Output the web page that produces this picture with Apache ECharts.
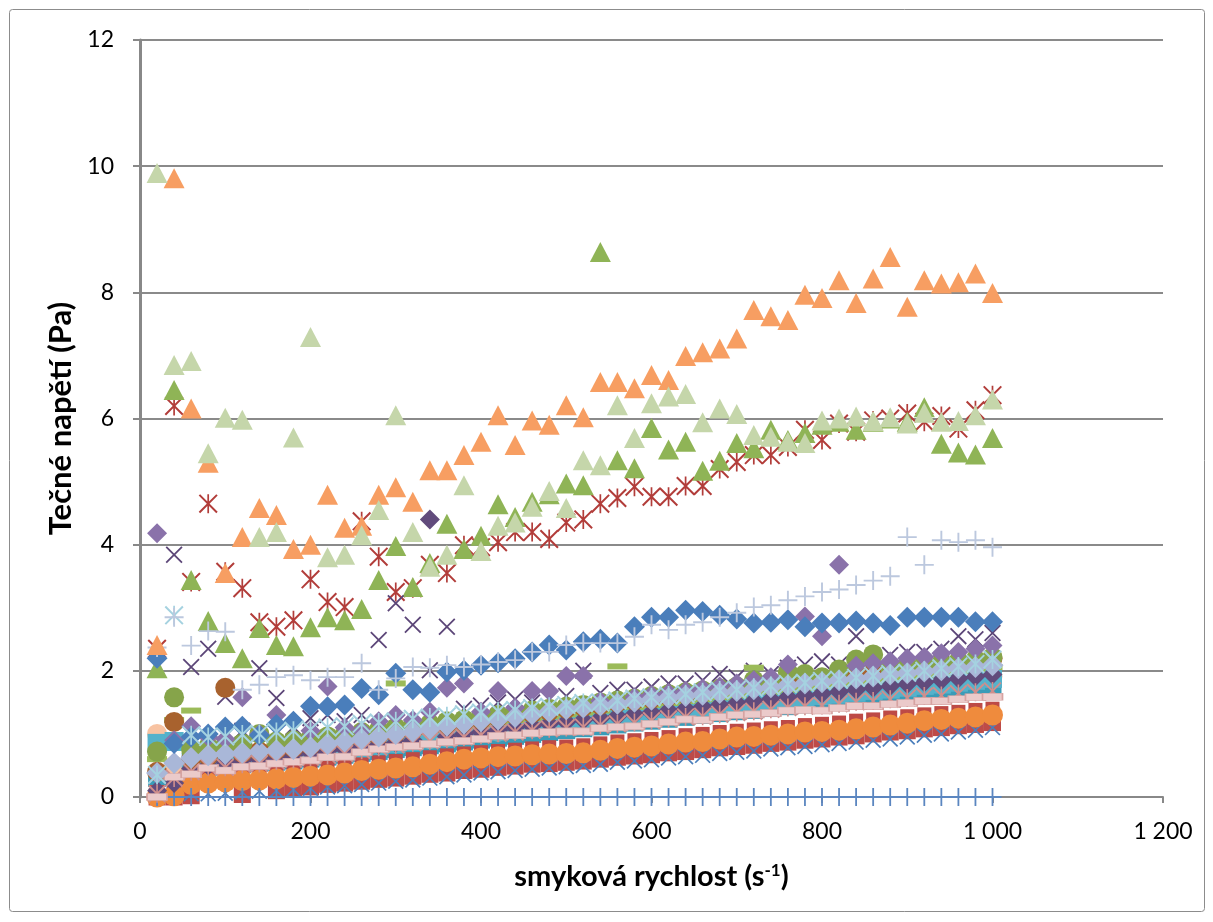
<!DOCTYPE html>
<html>
<head>
<meta charset="utf-8">
<script src="https://cdn.jsdelivr.net/npm/echarts@6/dist/echarts.min.js"></script>
<style>
  html, body { margin: 0; padding: 0; background: #fff; }
  #chart { width: 1213px; height: 922px; }
</style>
</head>
<body>
<div id="chart"></div>
<script>
// Shear rate (s-1) at which every sample was measured
const rates = [20, 40, 60, 80, 100, 120, 140, 160, 180, 200,
  220, 240, 260, 280, 300, 320, 340, 360, 380, 400,
  420, 440, 460, 480, 500, 520, 540, 560, 580, 600,
  620, 640, 660, 680, 700, 720, 740, 760, 780, 800,
  820, 840, 860, 880, 900, 920, 940, 960, 980, 1000];

// Shear stress (Pa) for each measured sample
const redSquare = [0.00, 0.00, 0.02, -0.02, -0.03, 0.04, -0.06, 0.10, 0.13, 0.16,
  0.20, 0.22, 0.25, 0.28, 0.30, 0.33, 0.36, 0.38, 0.42, 0.44,
  0.47, 0.49, 0.52, 0.53, 0.55, 0.57, 0.60, 0.63, 0.65, 0.67,
  0.70, 0.72, 0.75, 0.78, 0.80, 0.82, 0.85, 0.87, 0.90, 0.92,
  0.95, 0.97, 1.00, 1.03, 1.05, 1.08, 1.10, 1.13, 1.15, 1.18];
const blueX = [0.02, 0.04, 0.05, 0.05, 0.06, 0.08, 0.09, 0.10, 0.12, 0.14,
  0.16, 0.18, 0.20, 0.22, 0.25, 0.27, 0.30, 0.32, 0.35, 0.38,
  0.40, 0.42, 0.44, 0.46, 0.48, 0.50, 0.52, 0.55, 0.57, 0.59,
  0.62, 0.64, 0.66, 0.69, 0.71, 0.73, 0.76, 0.78, 0.80, 0.83,
  0.85, 0.87, 0.90, 0.92, 0.95, 0.98, 1.00, 1.03, 1.06, 1.10];
const redStar = [2.35, 6.20, 3.41, 4.65, 3.57, 3.31, 2.77, 2.70, 2.80, 3.45,
  3.09, 3.01, 4.37, 3.81, 3.25, 3.31, 3.68, 3.55, 3.99, 3.96,
  4.04, 4.20, 4.20, 4.09, 4.35, 4.40, 4.65, 4.74, 4.92, 4.76,
  4.76, 4.93, 4.93, 5.20, 5.31, 5.42, 5.42, 5.55, 5.82, 5.66,
  5.92, 5.79, 5.97, 6.00, 6.08, 5.95, 6.04, 5.84, 6.13, 6.37];
const greenTriangle = [2.04, 6.45, 3.44, 2.79, 2.44, 2.20, 2.68, 2.41, 2.39, 2.69,
  2.85, 2.80, 2.98, 3.44, 3.98, 3.33, 3.71, 4.33, 3.93, 4.14,
  4.64, 4.44, 4.68, 4.80, 4.97, 4.94, 8.64, 5.34, 5.21, 5.85,
  5.51, 5.63, 5.17, 5.33, 5.61, 5.53, 5.82, 5.66, 5.77, 5.90,
  5.95, 5.82, 5.95, 6.00, 5.95, 6.18, 5.60, 5.46, 5.43, 5.69];
const purpleX = [0.30, 3.84, 2.06, 2.35, 1.59, 1.05, 2.04, 1.57, 1.11, 1.25,
  1.30, 1.20, 1.30, 2.49, 3.07, 2.73, 2.01, 2.70, 1.40, 1.45,
  1.50, 1.55, 1.50, 1.55, 1.60, 2.00, 1.65, 1.70, 1.70, 1.75,
  1.80, 1.80, 1.85, 1.95, 1.90, 2.00, 1.95, 2.05, 2.10, 2.15,
  2.10, 2.55, 2.20, 2.25, 2.30, 2.30, 2.35, 2.55, 2.50, 2.60];
const tealSquare = [0.30, 0.45, 0.45, 0.48, 0.50, 0.52, 0.54, 0.56, 0.58, 0.61,
  0.64, 0.67, 0.70, 0.73, 0.76, 0.79, 0.82, 0.85, 0.88, 0.91,
  0.94, 0.97, 1.00, 1.03, 1.06, 1.09, 1.12, 1.15, 1.18, 1.21,
  1.24, 1.27, 1.30, 1.33, 1.36, 1.38, 1.41, 1.44, 1.47, 1.49,
  1.52, 1.54, 1.57, 1.59, 1.62, 1.64, 1.66, 1.68, 1.70, 1.72];
const peachCircle = [1.00, 0.50, 0.55, 0.58, 0.60, 0.62, 0.64, 0.66, 0.68, 0.71,
  0.74, 0.77, 0.80, 0.83, 0.86, 0.89, 0.92, 0.95, 0.98, 1.01,
  1.04, 1.07, 1.10, 1.13, 1.16, 1.19, 1.22, 1.25, 1.28, 1.31,
  1.34, 1.37, 1.40, 1.43, 1.46, 1.49, 1.52, 1.55, 1.58, 1.61,
  1.64, 1.67, 1.70, 1.73, 1.76, 1.79, 1.82, 1.85, 1.88, 1.91];
const aquaSquare = [0.85, 0.88, 0.55, 0.58, 0.60, 0.62, 0.63, 0.65, 0.67, 0.70,
  0.73, 0.75, 0.78, 0.82, 0.85, 0.88, 0.92, 0.95, 0.98, 1.01,
  1.04, 1.07, 1.10, 1.13, 1.16, 1.19, 1.22, 1.25, 1.28, 1.31,
  1.34, 1.37, 1.40, 1.43, 1.46, 1.49, 1.52, 1.55, 1.58, 1.61,
  1.63, 1.66, 1.69, 1.71, 1.74, 1.77, 1.79, 1.82, 1.85, 1.88];
const orangeCircle = [0.00, 0.02, 0.20, 0.22, 0.24, 0.26, 0.27, 0.29, 0.31, 0.33,
  0.35, 0.38, 0.42, 0.44, 0.46, 0.48, 0.52, 0.56, 0.60, 0.62,
  0.64, 0.65, 0.67, 0.68, 0.69, 0.70, 0.74, 0.77, 0.79, 0.81,
  0.84, 0.87, 0.88, 0.92, 0.95, 0.96, 0.98, 1.00, 1.03, 1.04,
  1.06, 1.08, 1.11, 1.14, 1.17, 1.21, 1.23, 1.25, 1.27, 1.30];
const bluePlus = [0, 0, 0, 0, 0, 0, 0, 0, 0, 0,
  0, 0, 0, 0, 0, 0, 0, 0, 0, 0,
  0, 0, 0, 0, 0, 0, 0, 0, 0, 0,
  0, 0, 0, 0, 0, 0, 0, 0, 0, 0,
  0, 0, 0, 0, 0, 0, 0, 0, 0, 0];
const redSquare2 = [0.08, 0.12, 0.28, 0.31, 0.33, 0.35, 0.37, 0.39, 0.41, 0.44,
  0.46, 0.49, 0.52, 0.55, 0.57, 0.60, 0.63, 0.66, 0.69, 0.71,
  0.73, 0.75, 0.77, 0.79, 0.80, 0.82, 0.85, 0.88, 0.90, 0.92,
  0.95, 0.98, 1.00, 1.03, 1.05, 1.07, 1.09, 1.11, 1.14, 1.16,
  1.18, 1.21, 1.23, 1.26, 1.28, 1.31, 1.33, 1.35, 1.38, 1.40];
const greenDash = [0.60, 1.22, 1.37, 0.70, 0.72, 0.75, 0.78, 0.80, 0.83, 0.86,
  0.89, 0.92, 0.95, 0.98, 1.80, 1.04, 1.07, 1.10, 1.13, 1.16,
  1.19, 1.22, 1.25, 1.28, 1.31, 1.34, 1.37, 2.07, 1.43, 1.46,
  1.49, 1.52, 1.55, 1.58, 1.61, 2.05, 1.67, 1.70, 1.73, 1.76,
  1.79, 1.82, 1.85, 1.88, 1.91, 1.94, 1.97, 2.00, 2.03, 2.06];
const darkPurpleDiamond = [0.10, 0.22, 0.45, 0.50, 0.55, 0.58, 0.60, 0.63, 0.66, 0.70,
  0.73, 0.76, 0.80, 0.83, 0.86, 0.90, 4.40, 0.96, 1.00, 1.03,
  1.06, 1.10, 1.13, 1.16, 1.19, 1.22, 1.25, 1.28, 1.31, 1.34,
  1.37, 1.40, 1.43, 1.46, 1.49, 1.52, 1.55, 1.58, 1.61, 1.64,
  1.67, 1.70, 1.73, 1.76, 1.79, 1.82, 1.85, 1.88, 1.91, 1.94];
const brownCircle = [0.40, 1.19, 0.60, 0.65, 1.73, 0.70, 0.72, 0.75, 0.78, 0.82,
  0.86, 0.90, 0.94, 0.98, 1.02, 1.06, 1.10, 1.14, 1.18, 1.22,
  1.26, 1.30, 1.33, 1.36, 1.40, 1.43, 1.46, 1.50, 1.53, 1.56,
  1.60, 1.63, 1.66, 1.70, 1.73, 1.76, 1.79, 1.82, 1.85, 1.88,
  1.91, 1.94, 1.97, 2.00, 2.03, 2.06, 2.09, 2.12, 2.15, 2.20];
const greenCircle = [0.72, 1.58, 0.75, 0.80, 0.82, 0.85, 1.00, 0.88, 0.90, 0.93,
  0.96, 0.99, 1.03, 1.06, 1.10, 1.13, 1.16, 1.20, 1.23, 1.27,
  1.30, 1.33, 1.37, 1.40, 1.43, 1.46, 1.50, 1.53, 1.56, 1.60,
  1.63, 1.66, 1.69, 1.72, 1.75, 1.85, 1.80, 1.98, 1.95, 1.90,
  2.02, 2.18, 2.26, 2.05, 2.08, 2.10, 2.12, 2.15, 2.18, 2.22];
const purpleDiamond = [4.18, 0.90, 1.12, 0.95, 0.92, 1.58, 1.00, 1.30, 1.20, 1.05,
  1.75, 1.10, 1.05, 1.20, 1.30, 1.22, 1.35, 1.73, 1.80, 1.35,
  1.68, 1.42, 1.68, 1.68, 1.92, 1.92, 1.52, 1.50, 1.58, 1.62,
  1.65, 1.68, 1.72, 1.75, 1.80, 1.85, 1.90, 2.10, 2.86, 2.55,
  3.68, 2.08, 2.12, 2.15, 2.20, 2.22, 2.28, 2.30, 2.35, 2.40];
const rosyX = [0.05, 0.30, 0.40, 0.48, 0.47, 0.52, 0.53, 0.57, 0.60, 0.63,
  0.66, 0.69, 0.74, 0.79, 0.83, 0.86, 0.89, 0.92, 0.95, 0.98,
  1.01, 1.03, 1.06, 1.08, 1.10, 1.11, 1.14, 1.16, 1.18, 1.21,
  1.24, 1.27, 1.28, 1.31, 1.34, 1.36, 1.39, 1.42, 1.44, 1.45,
  1.48, 1.51, 1.52, 1.55, 1.57, 1.60, 1.61, 1.64, 1.66, 1.68];
const pinkDash = [0.00, 0.32, 0.36, 0.46, 0.42, 0.48, 0.49, 0.53, 0.56, 0.58,
  0.63, 0.64, 0.71, 0.76, 0.79, 0.81, 0.84, 0.87, 0.89, 0.92,
  0.97, 0.98, 1.01, 1.03, 1.04, 1.04, 1.09, 1.11, 1.12, 1.16,
  1.19, 1.23, 1.22, 1.27, 1.30, 1.31, 1.33, 1.37, 1.38, 1.37,
  1.41, 1.44, 1.44, 1.47, 1.49, 1.52, 1.52, 1.55, 1.58, 1.59];
const lavenderDiamond = [0.38, 0.54, 0.62, 0.66, 0.68, 0.70, 0.72, 0.74, 0.76, 0.79,
  0.84, 0.88, 0.92, 0.96, 1.00, 1.04, 1.08, 1.13, 1.16, 1.20,
  1.23, 1.27, 1.31, 1.35, 1.39, 1.42, 1.45, 1.48, 1.51, 1.54,
  1.57, 1.60, 1.62, 1.65, 1.68, 1.71, 1.74, 1.77, 1.80, 1.82,
  1.85, 1.88, 1.91, 1.94, 1.96, 1.99, 2.01, 2.04, 2.06, 2.09];
const blueDiamond = [2.20, 0.85, 0.95, 1.00, 1.11, 1.12, 0.98, 1.15, 1.20, 1.44,
  1.43, 1.46, 1.72, 1.62, 1.96, 1.70, 1.66, 1.98, 2.01, 2.09,
  2.13, 2.19, 2.30, 2.41, 2.33, 2.46, 2.50, 2.44, 2.70, 2.85,
  2.85, 2.96, 2.94, 2.88, 2.82, 2.76, 2.77, 2.81, 2.70, 2.76,
  2.76, 2.79, 2.76, 2.72, 2.85, 2.85, 2.85, 2.85, 2.78, 2.78];
const lightBlueStar = [0.35, 2.88, 0.98, 0.95, 0.96, 0.99, 1.00, 1.03, 1.05, 1.07,
  1.10, 1.12, 1.16, 1.18, 1.20, 1.24, 1.26, 1.28, 1.31, 1.34,
  1.36, 1.38, 1.41, 1.43, 1.46, 1.49, 1.50, 1.53, 1.56, 1.58,
  1.61, 1.63, 1.66, 1.69, 1.70, 1.73, 1.76, 1.79, 1.81, 1.84,
  1.86, 1.89, 1.92, 1.95, 1.97, 2.00, 2.04, 2.07, 2.11, 2.18];
const lightPlus = [2.37, 2.85, 2.40, 2.63, 2.62, 1.70, 1.78, 1.90, 1.93, 1.85,
  1.90, 1.90, 2.12, 1.70, 1.88, 2.06, 2.05, 2.09, 2.06, 2.10,
  2.14, 2.17, 2.30, 2.30, 2.41, 2.44, 2.44, 2.44, 2.54, 2.73,
  2.65, 2.73, 2.77, 2.85, 2.92, 3.01, 3.04, 3.12, 3.18, 3.25,
  3.29, 3.36, 3.43, 3.50, 4.12, 3.68, 4.07, 4.04, 4.07, 3.96];
const orangeTriangle = [2.41, 9.81, 6.16, 5.30, 3.55, 4.12, 4.58, 4.47, 3.93, 4.00,
  4.79, 4.27, 4.30, 4.79, 4.91, 4.68, 5.18, 5.18, 5.42, 5.63,
  6.05, 5.58, 5.97, 5.90, 6.21, 6.02, 6.58, 6.58, 6.48, 6.69,
  6.61, 6.99, 7.05, 7.11, 7.27, 7.72, 7.62, 7.56, 7.96, 7.91,
  8.19, 7.83, 8.22, 8.56, 7.77, 8.19, 8.14, 8.16, 8.30, 7.99];
const lightGreenTriangle = [9.89, 6.85, 6.91, 5.45, 6.01, 5.98, 4.12, 4.20, 5.70, 7.29,
  3.80, 3.84, 4.15, 4.55, 6.05, 4.20, 3.65, 3.84, 4.94, 3.90,
  4.30, 4.35, 4.60, 4.85, 4.58, 5.34, 5.26, 6.21, 5.69, 6.24,
  6.35, 6.39, 5.94, 6.16, 6.07, 5.74, 5.71, 5.63, 5.61, 5.97,
  6.00, 6.03, 5.96, 6.02, 5.92, 6.09, 5.95, 5.96, 6.05, 6.30];

// Axis ticks
const xTicks = { min: 0, max: 1200, step: 200 };
const yTicks = { min: 0, max: 12, step: 2 };

// Marker outlines (filled polygons drawn in a 20x20 box)
const SYM_X = 'path://M0,1.5L1.5,0L20,18.5L18.5,20Z M18.5,0L20,1.5L1.5,20L0,18.5Z';
const SYM_STAR = SYM_X + ' M9.1,0H10.9V20H9.1Z';
const SYM_PLUS = 'path://M9,0H11V9H20V11H11V20H9V11H0V9H9Z';

// Series in drawing order (later ones sit on top)
const seriesDefs = [
  { data: redSquare,         symbol: 'rect',     size: 17,       color: '#BE4B48' },
  { data: blueX,             symbol: SYM_X,      size: 16,       color: '#4A7EBB' },
  { data: redStar,           symbol: SYM_STAR,   size: 19,       color: '#B23D3A' },
  { data: greenTriangle,     symbol: 'triangle', size: [21, 20], color: '#8FB456' },
  { data: purpleX,           symbol: SYM_X,      size: 17,       color: '#5C4678' },
  { data: tealSquare,        symbol: 'rect',     size: 18,       color: '#3A9CB8' },
  { data: peachCircle,       symbol: 'circle',   size: 20,       color: '#F8C3A2' },
  { data: redSquare2,        symbol: 'rect',     size: 14,       color: '#BD4A46' },
  { data: aquaSquare,        symbol: 'rect',     size: 19,       color: '#55B2CB' },
  { data: orangeCircle,      symbol: 'circle',   size: 21,       color: '#EF8B3D' },
  { data: bluePlus,          symbol: SYM_PLUS,   size: 18,       color: '#5B86C0' },
  { data: greenDash,         symbol: 'rect',     size: [20, 6],  color: '#9BBB59' },
  { data: darkPurpleDiamond, symbol: 'diamond',  size: 20,       color: '#614B7C' },
  { data: brownCircle,       symbol: 'circle',   size: 20,       color: '#A8622E' },
  { data: greenCircle,       symbol: 'circle',   size: 20,       color: '#86A44A' },
  { data: purpleDiamond,     symbol: 'diamond',  size: 20,       color: '#8A72AA' },
  { data: rosyX,             symbol: SYM_STAR,   size: 18,       color: '#CF8E8C' },
  { data: pinkDash,          symbol: 'rect',     size: [20, 7],  color: '#EBCACA', border: '#D6A3A2' },
  { data: lavenderDiamond,   symbol: 'diamond',  size: 22,       color: '#A9B7D8' },
  { data: blueDiamond,       symbol: 'diamond',  size: 21,       color: '#4A7EBB' },
  { data: lightBlueStar,     symbol: SYM_STAR,   size: 19,       color: '#A5D2E0' },
  { data: lightPlus,         symbol: SYM_PLUS,   size: 19,       color: '#BCC8DE' },
  { data: orangeTriangle,    symbol: 'triangle', size: [21, 20], color: '#F79E62' },
  { data: lightGreenTriangle,symbol: 'triangle', size: [21, 20], color: '#C5D6AA' }
];

const FONT = 'Lato, "Liberation Sans", sans-serif';

const chart = echarts.init(document.getElementById('chart'), null, { renderer: 'canvas' });

chart.setOption({
  animation: false,
  backgroundColor: '#ffffff',
  textStyle: { fontFamily: FONT },
  graphic: [{
    type: 'rect',
    shape: { x: 9.5, y: 9.5, width: 1195, height: 902, r: 3 },
    style: { fill: 'none', stroke: '#8c8c8c', lineWidth: 1 },
    silent: true
  }],
  grid: { left: 140, right: 50, top: 40, bottom: 125, containLabel: false },
  xAxis: {
    type: 'value',
    min: xTicks.min, max: xTicks.max, interval: xTicks.step,
    axisLine: { show: true, onZero: false, lineStyle: { color: '#888888', width: 2 } },
    axisTick: { show: true, length: 6, lineStyle: { color: '#888888', width: 2 } },
    splitLine: { show: false },
    axisLabel: {
      fontSize: 23, color: '#000', margin: 23, fontFamily: FONT,
      formatter: v => String(v).replace(/\B(?=(\d{3})+(?!\d))/g, ' ')
    },
    name: 'smyková rychlost (s{sup|-1})',
    nameLocation: 'middle',
    nameGap: 65,
    nameTextStyle: {
      fontSize: 29, fontWeight: 'bold', color: '#000', fontFamily: FONT,
      rich: { sup: { fontSize: 17, fontWeight: 'bold', color: '#000', fontFamily: FONT, verticalAlign: 'top', padding: [0, 0, 12, 0] } }
    }
  },
  yAxis: {
    type: 'value',
    min: yTicks.min, max: yTicks.max, interval: yTicks.step,
    axisLine: { show: true, lineStyle: { color: '#888888', width: 3 } },
    axisTick: { show: true, length: 7, lineStyle: { color: '#888888', width: 2 } },
    splitLine: { show: true, lineStyle: { color: '#8a8a8a', width: 2 } },
    axisLabel: { fontSize: 23, color: '#000', margin: 26, fontFamily: FONT },
    name: 'Tečné napětí (Pa)',
    nameLocation: 'middle',
    nameGap: 58,
    nameTextStyle: { fontSize: 31, fontWeight: 'bold', color: '#000', fontFamily: FONT }
  },
  series: seriesDefs.map((d, i) => ({
    type: 'scatter',
    name: 'S' + (i + 1),
    silent: true,
    symbol: d.symbol,
    symbolSize: d.size,
    z: 2,
    itemStyle: {
      color: d.color,
      opacity: 1,
      borderColor: d.border || d.color,
      borderWidth: d.border ? 1 : 0
    },
    data: rates.map((x, k) => [x, d.data[k]])
  }))
});
</script>
</body>
</html>
